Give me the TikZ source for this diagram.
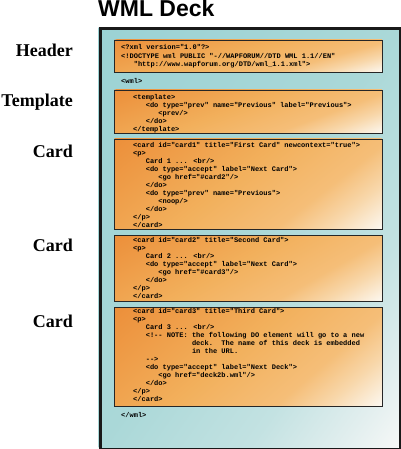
\documentclass[tikz,border=0pt]{standalone}
\usepackage{fontspec}
\setmainfont{Liberation Serif}
\newfontfamily\titlefont{Liberation Sans}
\newfontfamily\codefont[Ligatures=TeXOff]{Liberation Mono}

\definecolor{deckteal}{RGB}{155,210,212}
\definecolor{deckmid}{RGB}{170,216,216}
\definecolor{decksoft}{RGB}{195,226,226}
\definecolor{decklight}{RGB}{225,238,238}
\definecolor{deckwhite}{RGB}{246,248,247}
\definecolor{boxorange}{RGB}{236,143,58}
\definecolor{boxmid}{RGB}{242,176,92}
\definecolor{boxsoft}{RGB}{245,190,120}
\definecolor{boxlight}{RGB}{248,215,170}
\definecolor{boxwhite}{RGB}{252,248,241}

\pgfdeclarehorizontalshading{tealfade}{100bp}{color(0bp)=(deckteal); color(25bp)=(deckteal);
  color(50bp)=(deckmid); color(62.5bp)=(decksoft); color(70bp)=(decklight); color(75bp)=(deckwhite);
  color(100bp)=(deckwhite)}
\pgfdeclarehorizontalshading{orangefade}{100bp}{color(0bp)=(boxorange); color(25bp)=(boxorange);
  color(47.5bp)=(boxmid); color(61bp)=(boxsoft); color(67.5bp)=(boxlight); color(75bp)=(boxwhite);
  color(100bp)=(boxwhite)}

\newcommand\ind[1]{\hspace*{#1\fontcharwd\font`0}}

% #1 shading, #2/#3 top left, #4/#5 bottom right, #6 weight of the horizontal run
\newcommand\fadebox[6]{%
  \pgfmathsetmacro\fbw{#4-#2}%
  \pgfmathsetmacro\fbh{#5-#3}%
  \pgfmathsetmacro\fang{atan2((1-#6)/\fbh,#6/\fbw)}%
  \pgfmathsetmacro\fP{\fbw*cos(\fang)+\fbh*sin(\fang)}%
  \pgfmathsetmacro\fQ{\fbw*sin(\fang)+\fbh*cos(\fang)}%
  \pgfmathsetmacro\fcx{(#2+#4)/2}%
  \pgfmathsetmacro\fcy{(#3+#5)/2}%
  \begin{scope}
    \clip (#2,#3) rectangle (#4,#5);
    \shade[shading=#1, transform canvas={rotate around={-\fang:(\fcx,\fcy)}}]
      (\fcx-\fP/2,\fcy-\fQ/2) rectangle (\fcx+\fP/2,\fcy+\fQ/2);
  \end{scope}}

\begin{document}
\begin{tikzpicture}[
    x=1bp, y=-1bp,
    deck/.style={
      draw=black!90,
      line width=3bp,
      anchor=north west,
      inner sep=0pt
    },
    codebox/.style={
      draw=black!85,
      line width=1.3bp,
      minimum width=268bp,
      anchor=north west,
      inner sep=0pt
    },
    code/.style={
      anchor=north west,
      inner sep=0pt,
      align=left,
      font=\codefont\bfseries\fontsize{7bp}{8bp}\selectfont
    },
    part/.style={
      anchor=base east,
      inner sep=0pt,
      font=\bfseries\fontsize{18bp}{20bp}\selectfont
    }
  ]

  \useasboundingbox (0,0) rectangle (400,449);

  \fadebox{tealfade}{98.5}{27.5}{398.5}{447.5}{0.5}
  \fadebox{orangefade}{114}{40}{382}{72}{0.7}
  \fadebox{orangefade}{114}{90}{382}{133}{0.7}
  \fadebox{orangefade}{114}{139}{382}{229}{0.7}
  \fadebox{orangefade}{114}{235}{382}{301}{0.7}
  \fadebox{orangefade}{114}{307}{382}{406}{0.7}

  \node[anchor=base west, inner sep=0pt,
    font=\titlefont\bfseries\fontsize{23bp}{26bp}\selectfont] (title) at (98,17) {WML Deck};

  \node[deck, minimum width=300bp, minimum height=420bp] (deck) at (98.5,27.5) {};

  \node[codebox, minimum height=32bp] (headbox) at (114,40) {};
  \node[codebox, minimum height=43bp] (tmplbox) at (114,90) {};
  \node[codebox, minimum height=90bp] (card1box) at (114,139) {};
  \node[codebox, minimum height=66bp] (card2box) at (114,235) {};
  \node[codebox, minimum height=99bp] (card3box) at (114,307) {};

  \node[part] (header) at (73,57) {Header};
  \node[part] (template) at (73,107) {Template};
  \node[part] (card1) at (73,158) {Card};
  \node[part] (card2) at (73,251) {Card};
  \node[part] (card3) at (73,327) {Card};

  \node[code, font=\codefont\bfseries\fontsize{7bp}{8.6bp}\selectfont] (headcode) at (121,44.5) {%
    <?xml version="1.0"?>\\
    <!DOCTYPE wml PUBLIC "-//WAPFORUM//DTD WML 1.1//EN"\\
    \ind{3}"http://www.wapforum.org/DTD/wml\_1.1.xml">};

  \node[code] (wmlopen) at (121,78.5) {<wml>};

  \node[code] (tmplcode) at (133,94) {%
    <template>\\
    \ind{3}<do type="prev" name="Previous" label="Previous">\\
    \ind{6}<prev/>\\
    \ind{3}</do>\\
    </template>};

  \node[code] (card1code) at (133,142) {%
    <card id="card1" title="First Card" newcontext="true">\\
    <p>\\
    \ind{3}Card 1 ... <br/>\\
    \ind{3}<do type="accept" label="Next Card">\\
    \ind{6}<go href="\#card2"/>\\
    \ind{3}</do>\\
    \ind{3}<do type="prev" name="Previous">\\
    \ind{6}<noop/>\\
    \ind{3}</do>\\
    </p>\\
    </card>};

  \node[code] (card2code) at (133,237.5) {%
    <card id="card2" title="Second Card">\\
    <p>\\
    \ind{3}Card 2 ... <br/>\\
    \ind{3}<do type="accept" label="Next Card">\\
    \ind{6}<go href="\#card3"/>\\
    \ind{3}</do>\\
    </p>\\
    </card>};

  \node[code] (card3code) at (133,308.5) {%
    <card id="card3" title="Third Card">\\
    <p>\\
    \ind{3}Card 3 ... <br/>\\
    \ind{3}<!-- NOTE: the following DO element will go to a new\\
    \ind{14}deck.\ \ The name of this deck is embedded\\
    \ind{14}in the URL.\\
    \ind{3}-->\\
    \ind{3}<do type="accept" label="Next Deck">\\
    \ind{6}<go href="deck2b.wml"/>\\
    \ind{3}</do>\\
    </p>\\
    </card>};

  \node[code] (wmlclose) at (121,412.5) {</wml>};

\end{tikzpicture}
\end{document}
